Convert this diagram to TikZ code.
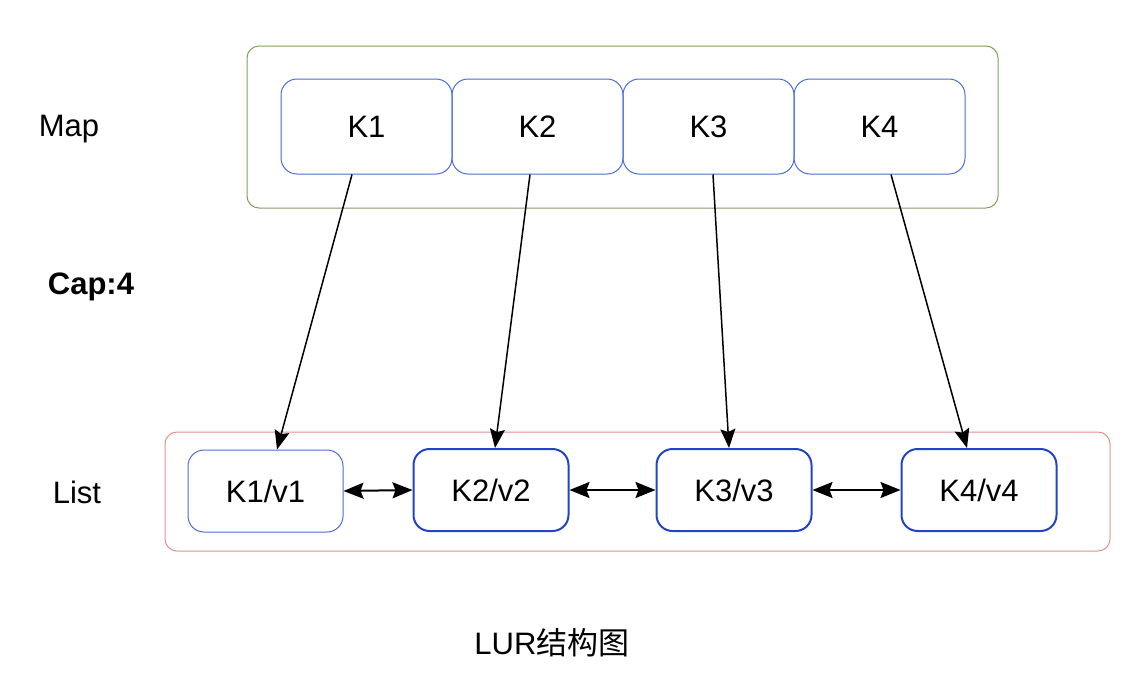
\documentclass[tikz,border=0pt]{standalone}
\usepackage{fontspec}
\setmainfont{Liberation Sans}
\newfontfamily\cjkfont{Noto Sans CJK SC}
\usetikzlibrary{arrows.meta}
\definecolor{mapgreen}{HTML}{7F9F5A}
\definecolor{listred}{HTML}{E3908C}
\definecolor{keyblue}{HTML}{4A6CD6}
\definecolor{nodeblue}{HTML}{2244C4}

\begin{document}
\begin{tikzpicture}[x=1pt,y=-1pt,
  every node/.style={font=\fontsize{31}{36}\selectfont},
  keybox/.style={draw=keyblue, line width=1pt, rounded corners=16pt, minimum width=171pt, minimum height=95pt, inner sep=0pt},
  entrybox/.style={draw=nodeblue, line width=2pt, rounded corners=16pt, minimum width=155pt, minimum height=82pt, inner sep=0pt},
  maplink/.style={line width=1.5pt, -{Stealth[length=19pt, width=15pt, inset=3pt]}},
  listlink/.style={line width=2pt, {Stealth[length=20pt, width=16pt, inset=3pt]}-{Stealth[length=20pt, width=16pt, inset=3pt]}}
]
\useasboundingbox (0,0) rectangle (1148,686);

% outer groups
\draw[mapgreen, line width=1pt, rounded corners=12pt] (247,46) rectangle (998,208);
\draw[listred, line width=1pt, rounded corners=12pt] (165,432) rectangle (1110,551);

% map keys
\node[keybox] (k1) at (366.5,126.5) {K1};
\node[keybox] (k2) at (537.5,126.5) {K2};
\node[keybox] (k3) at (708.5,126.5) {K3};
\node[keybox] (k4) at (879.5,126.5) {K4};

% list entries
\node[entrybox, draw=keyblue, line width=1pt] (kv1) at (265.5,491) {K1/v1};
\node[entrybox] (kv2) at (491,490) {K2/v2};
\node[entrybox] (kv3) at (734,490) {K3/v3};
\node[entrybox] (kv4) at (979,490) {K4/v4};

% labels
\node (maplabel) at (69,129) {Map};
\node[font=\fontsize{31}{36}\selectfont\bfseries] (caplabel) at (91,287) {Cap:4};
\node (listlabel) at (77,492) {List};
\node (title) at (552,643) {LUR{\cjkfont 结构图}};

% key -> entry
\draw[maplink] ([xshift=-14.5pt]k1.south) -- ([xshift=11.5pt]kv1.north);
\draw[maplink] ([xshift=-7.5pt]k2.south) -- ([xshift=4pt]kv2.north);
\draw[maplink] ([xshift=4.5pt]k3.south) -- ([xshift=-5pt]kv3.north);
\draw[maplink] ([xshift=11.5pt]k4.south) -- ([xshift=-12pt]kv4.north);

% entry <-> entry
\draw[listlink] (kv1.east) -- (kv2.west);
\draw[listlink] (kv2.east) -- (kv3.west);
\draw[listlink] (kv3.east) -- (kv4.west);

\end{tikzpicture}
\end{document}
